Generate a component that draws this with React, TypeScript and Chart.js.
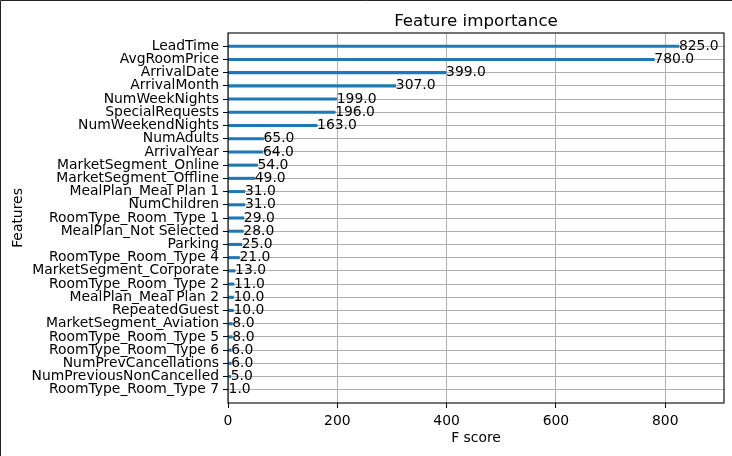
import React, { useEffect, useRef } from "react";
import { Chart, registerables } from "chart.js";

Chart.register(...registerables);

// Features sorted from lowest (bottom) to highest (top)
const features: string[] = [
  "RoomType_Room_Type 7",
  "NumPreviousNonCancelled",
  "NumPrevCancellations",
  "RoomType_Room_Type 6",
  "RoomType_Room_Type 5",
  "MarketSegment_Aviation",
  "RepeatedGuest",
  "MealPlan_Meal Plan 2",
  "RoomType_Room_Type 2",
  "MarketSegment_Corporate",
  "RoomType_Room_Type 4",
  "Parking",
  "MealPlan_Not Selected",
  "RoomType_Room_Type 1",
  "NumChildren",
  "MealPlan_Meal Plan 1",
  "MarketSegment_Offline",
  "MarketSegment_Online",
  "ArrivalYear",
  "NumAdults",
  "NumWeekendNights",
  "SpecialRequests",
  "NumWeekNights",
  "ArrivalMonth",
  "ArrivalDate",
  "AvgRoomPrice",
  "LeadTime",
];

const fScores: number[] = [
  1, 5, 6, 6, 8, 8, 10, 10, 11, 13, 21, 25, 28, 29, 31, 31, 49, 54, 64, 65,
  163, 196, 199, 307, 399, 780, 825,
];

const xTicks: number[] = [0, 200, 400, 600, 800];

const TITLE = "Feature importance";
const X_TITLE = "F score";
const Y_TITLE = "Features";

const FONT = "'DejaVu Sans', sans-serif";

export default function App() {
  const ref = useRef<HTMLCanvasElement | null>(null);

  useEffect(() => {
    document.body.style.margin = "0";
    const canvas = ref.current;
    if (!canvas) return;

    const xMax = Math.max(...fScores) * 1.1;

    const framePlugin = {
      id: "frameAndLabels",
      beforeDraw(chart: any) {
        const ctx = chart.ctx;
        ctx.save();
        ctx.fillStyle = "#fff";
        ctx.fillRect(0, 0, chart.width, chart.height);
        ctx.strokeStyle = "#222";
        ctx.lineWidth = 1;
        ctx.beginPath();
        ctx.moveTo(0.5, chart.height);
        ctx.lineTo(0.5, 0.5);
        ctx.lineTo(chart.width, 0.5);
        ctx.stroke();
        ctx.restore();
      },
      afterDatasetsDraw(chart: any) {
        const ctx = chart.ctx;
        const meta = chart.getDatasetMeta(0);
        ctx.save();
        ctx.font = `13.9px ${FONT}`;
        ctx.fillStyle = "#000";
        ctx.textAlign = "left";
        ctx.textBaseline = "middle";
        meta.data.forEach((bar: any, i: number) => {
          ctx.fillText(fScores[i].toFixed(1), bar.x, bar.y);
        });
        ctx.restore();
      },
      afterDraw(chart: any) {
        const ctx = chart.ctx;
        const a = chart.chartArea;
        ctx.save();
        ctx.strokeStyle = "#000";
        ctx.lineWidth = 1.1;
        ctx.strokeRect(a.left, a.top, a.right - a.left, a.bottom - a.top);
        ctx.font = `16.7px ${FONT}`;
        ctx.fillStyle = "#000";
        ctx.textAlign = "center";
        ctx.textBaseline = "alphabetic";
        ctx.fillText(TITLE, (a.left + a.right) / 2, 26);
        ctx.restore();
      },
    };

    const chart = new Chart(canvas, {
      type: "bar",
      data: {
        datasets: [
          {
            data: fScores.map((v, i) => ({ x: v, y: i })),
            backgroundColor: "#1f77b4",
            borderWidth: 0,
            barThickness: 2.4,
          } as any,
        ],
      },
      options: {
        indexAxis: "y",
        responsive: false,
        animation: false,
        devicePixelRatio: 1,
        layout: { padding: { top: 33, right: 8, left: 0, bottom: 0 } },
        plugins: {
          legend: { display: false },
          title: { display: false },
          tooltip: { enabled: false },
        },
        scales: {
          x: {
            type: "linear",
            min: 0,
            max: xMax,
            offset: false,
            afterBuildTicks: (scale: any) => {
              scale.ticks = xTicks.map((v) => ({ value: v }));
            },
            afterFit: (scale: any) => {
              scale.height = 53;
            },
            ticks: {
              color: "#000",
              font: { family: FONT, size: 13.9 },
              padding: 5,
              maxRotation: 0,
              callback: (v: any) => String(v),
            },
            grid: {
              color: "#b0b0b0",
              lineWidth: 1,
              tickColor: "#000",
              tickLength: 5,
              drawTicks: true,
              offset: false,
            },
            border: { display: false },
            title: {
              display: true,
              text: X_TITLE,
              color: "#000",
              font: { family: FONT, size: 13.9 },
              padding: { top: 0, bottom: 9 },
            },
          },
          y: {
            type: "linear",
            min: -1,
            max: features.length,
            offset: false,
            afterBuildTicks: (scale: any) => {
              scale.ticks = features.map((_, i) => ({ value: i }));
            },
            afterFit: (scale: any) => {
              scale.width = 228;
            },
            ticks: {
              color: "#000",
              font: { family: FONT, size: 13.9 },
              padding: 4,
              autoSkip: false,
              callback: (v: any) => features[v] ?? "",
            },
            grid: {
              color: "#b0b0b0",
              lineWidth: 1,
              tickColor: "#000",
              tickLength: 5,
              drawTicks: true,
              offset: false,
            },
            border: { display: false },
            title: {
              display: true,
              text: Y_TITLE,
              color: "#000",
              font: { family: FONT, size: 13.9 },
              padding: { top: 10, bottom: 0 },
            },
          },
        },
      } as any,
      plugins: [framePlugin],
    });

    return () => chart.destroy();
  }, []);

  return (
    <canvas
      ref={ref}
      width={732}
      height={456}
      style={{ display: "block", width: 732, height: 456 }}
    />
  );
}
